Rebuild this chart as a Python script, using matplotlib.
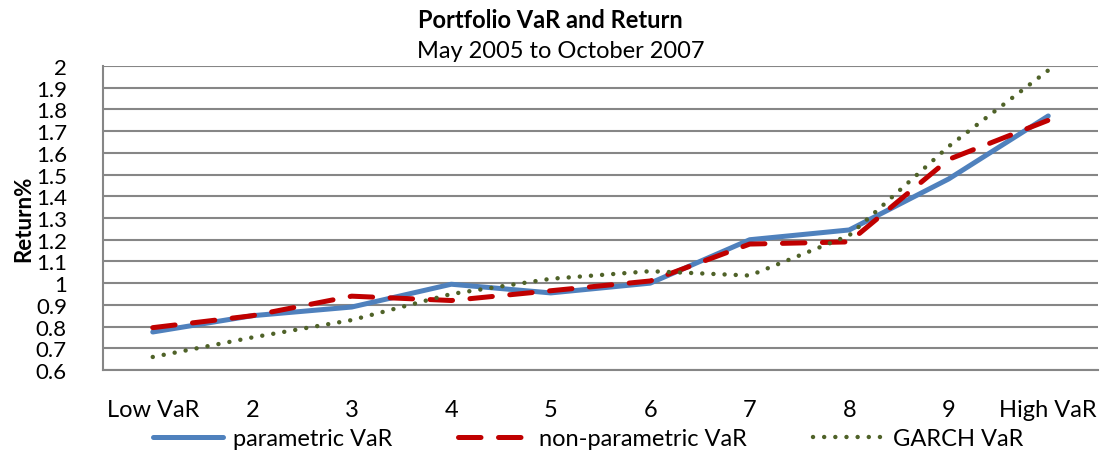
import matplotlib
matplotlib.use("Agg")
import matplotlib.pyplot as plt
import numpy as np

categories = ["Low VaR", "2", "3", "4", "5", "6", "7", "8", "9", "High VaR"]
parametric = [0.775, 0.85, 0.89, 0.995, 0.955, 1.0, 1.2, 1.245, 1.48, 1.77]
non_parametric = [0.795, 0.85, 0.94, 0.92, 0.965, 1.01, 1.18, 1.19, 1.57, 1.75]
garch = [0.66, 0.75, 0.83, 0.95, 1.02, 1.055, 1.035, 1.22, 1.63, 1.98]
yticks = [0.6, 0.7, 0.8, 0.9, 1, 1.1, 1.2, 1.3, 1.4, 1.5, 1.6, 1.7, 1.8, 1.9, 2]

plt.rcParams['font.family'] = ['Lato', 'DejaVu Sans']

fig = plt.figure(figsize=(11.01, 4.52), dpi=100)
ax = fig.add_axes([103/1101, (452-371)/452, (1098-103)/1101, (371-67)/452])

x = np.arange(len(categories))
ax.plot(x, parametric, color="#4F81BD", lw=3.6, label="parametric VaR", solid_capstyle="round", zorder=3)
ax.plot(x, non_parametric, color="#C00000", lw=3.6, dashes=(4.5, 3.5), label="non-parametric VaR", dash_capstyle="round", zorder=4)
ax.plot(x, garch, color="#4F6228", lw=3.2, linestyle=(0, (0.01, 2.5)), dash_capstyle="round", label="GARCH VaR", zorder=5)

ax.set_xlim(-0.5, len(categories) - 0.5)
ax.set_ylim(0.6, 2.0)
ax.set_yticks(yticks)
ax.set_yticklabels([f"{v:g}" for v in yticks], fontsize=16)
ax.set_xticks(x)
ax.set_xticklabels(categories, fontsize=17)
ax.tick_params(axis="y", length=0, pad=26)
ax.tick_params(axis="x", length=0, pad=21)
ax.grid(axis="y", color="#868686", lw=1.5)
ax.set_axisbelow(True)
for s in ["right", "top"]:
    ax.spines[s].set_visible(False)
for s in ["left", "bottom"]:
    ax.spines[s].set_color("#868686")
    ax.spines[s].set_linewidth(1.5)

ax.set_ylabel("Return%", fontsize=16, fontweight="bold", va="center", ha="center")
ax.yaxis.set_label_coords((24 - 103) / 995, 0.5)

fig.text(0.5, 1 - 21/452, "Portfolio VaR and Return", ha="center", va="center", fontsize=17, fontweight="bold")
fig.text(561/1101, 1 - 52/452, "May 2005 to October 2007", ha="center", va="center", fontsize=17)

leg = fig.legend(loc="center", bbox_to_anchor=(588/1101, 1 - 440/452), ncol=3, frameon=False,
                 fontsize=17, handlelength=3.0, columnspacing=2.8, handletextpad=0.4,
                 borderpad=0, borderaxespad=0)

fig.savefig("out.png", dpi=100)
